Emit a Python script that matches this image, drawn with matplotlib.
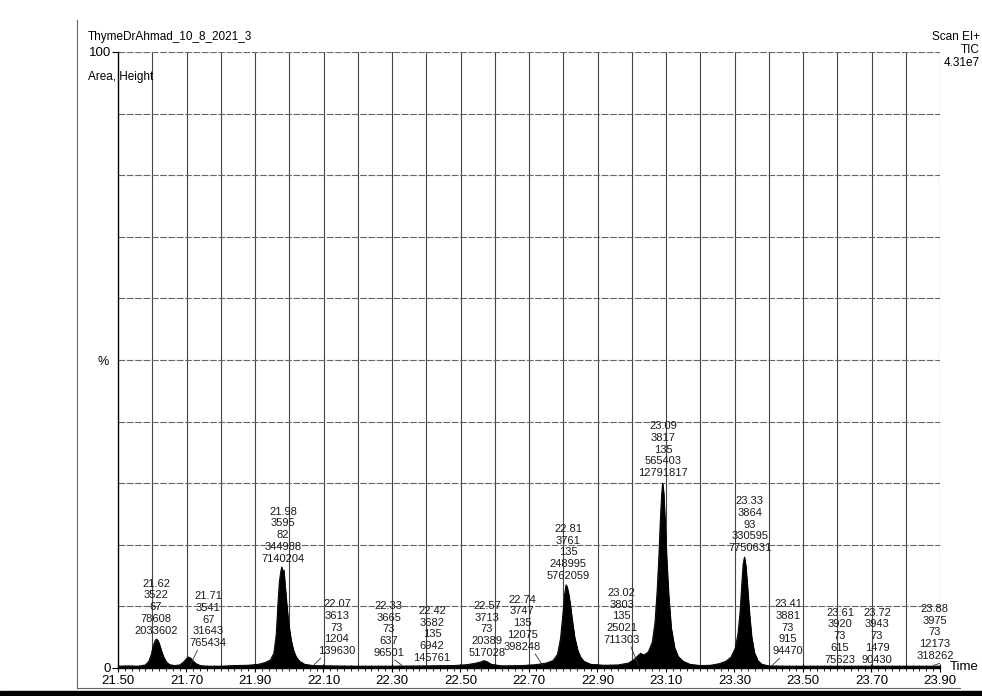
import matplotlib
matplotlib.use("Agg")
import matplotlib.pyplot as plt
import numpy as np

plt.rcParams['font.family'] = ['Liberation Sans', 'DejaVu Sans']

# TIC trace, time (min) vs. relative intensity (%)
trace_t = [21.50, 21.53, 21.56, 21.58, 21.59, 21.597, 21.603, 21.608, 21.612, 21.616, 21.62,
           21.626, 21.633, 21.641, 21.65, 21.665, 21.68, 21.69, 21.698, 21.705, 21.712,
           21.72, 21.728, 21.74, 21.76, 21.80, 21.84, 21.88, 21.91, 21.93, 21.945,
           21.955, 21.962, 21.967, 21.971, 21.975, 21.978, 21.981, 21.984, 21.988,
           21.993, 21.998, 22.005, 22.012, 22.02, 22.03, 22.045, 22.07, 22.12, 22.20,
           22.30, 22.40, 22.48, 22.52, 22.545, 22.56, 22.568, 22.578, 22.59, 22.62,
           22.68, 22.72, 22.75, 22.77, 22.783, 22.792, 22.799, 22.804, 22.808, 22.811,
           22.815, 22.82, 22.826, 22.833, 22.842, 22.85, 22.86, 22.88, 22.92, 22.96,
           22.99, 23.005, 23.018, 23.026, 23.035, 23.048, 23.06, 23.068, 23.074,
           23.079, 23.083, 23.087, 23.090, 23.093, 23.097, 23.102, 23.108, 23.115,
           23.125, 23.135, 23.15, 23.17, 23.20, 23.23, 23.255, 23.275, 23.29, 23.302,
           23.31, 23.316, 23.321, 23.325, 23.329, 23.333, 23.338, 23.344, 23.35,
           23.358, 23.368, 23.38, 23.40, 23.45, 23.55, 23.65, 23.75, 23.85, 23.90]
trace_y = [0.3, 0.35, 0.3, 0.5, 1.1, 2.2, 3.6, 4.4, 4.7, 4.5, 4.0,
           2.9, 1.8, 1.0, 0.55, 0.4, 0.5, 0.9, 1.4, 1.8, 1.6,
           1.1, 0.7, 0.4, 0.3, 0.3, 0.4, 0.45, 0.6, 0.9, 1.3,
           2.4, 5.5, 10.5, 14.0, 15.6, 16.4, 15.2, 15.9, 13.2,
           10.0, 7.2, 4.6, 2.9, 1.8, 1.1, 0.6, 0.4, 0.35, 0.3,
           0.3, 0.35, 0.4, 0.55, 0.8, 1.0, 1.2, 1.0, 0.6, 0.35,
           0.4, 0.55, 0.8, 1.2, 2.2, 4.8, 8.8, 12.0, 13.5, 13.2,
           12.2, 10.5, 7.8, 5.0, 2.9, 1.8, 1.1, 0.6, 0.45, 0.5,
           0.8, 1.3, 2.0, 2.4, 2.1, 2.6, 4.2, 7.5, 12.5,
           18.0, 23.5, 28.0, 30.0, 28.5, 24.0, 17.5, 11.5, 6.5,
           3.3, 1.9, 1.1, 0.6, 0.4, 0.45, 0.7, 1.1, 1.8, 3.2,
           5.5, 9.0, 13.5, 16.8, 18.0, 16.5, 13.0, 8.5, 5.0,
           2.5, 1.2, 0.6, 0.35, 0.3, 0.3, 0.3, 0.3, 0.3, 0.3]

# peak annotations: retention time, scan, base mass, height, area
peak_rt = ['21.62', '21.71', '21.98', '22.07', '22.33', '22.42', '22.57', '22.74',
           '22.81', '23.02', '23.09', '23.33', '23.41', '23.61', '23.72', '23.88']
peak_scan = ['3522', '3541', '3595', '3613', '3665', '3682', '3713', '3747',
             '3761', '3803', '3817', '3864', '3881', '3920', '3943', '3975']
peak_mass = ['67', '67', '82', '73', '73', '135', '73', '135',
             '135', '135', '135', '93', '73', '73', '73', '73']
peak_height = ['78608', '31643', '344988', '1204', '637', '6942', '20389', '12075',
               '248995', '25021', '565403', '330595', '915', '615', '1479', '12173']
peak_area = ['2033602', '765434', '7140204', '139630', '96501', '145761', '517028', '398248',
             '5762059', '711303', '12791817', '7750631', '94470', '75623', '90430', '318262']

# where each label block sits (centre x, top y) and whether it gets a leader line
label_xy = [(21.611, 14.5), (21.763, 12.5), (21.982, 26.2), (22.139, 11.2),
            (22.291, 10.9), (22.417, 10.1), (22.577, 10.9), (22.680, 11.9),
            (22.814, 23.4), (22.971, 13.0), (23.091, 40.1), (23.345, 27.9),
            (23.456, 11.2), (23.608, 9.8), (23.716, 9.8), (23.885, 10.4)]
leader = [False, True, False, True, True, False, False, True,
          False, True, False, False, True, False, False, True]

fig = plt.figure(figsize=(9.82, 6.96), dpi=100)
ax = fig.add_axes([118 / 982, 1 - 668 / 696, 822 / 982, 616 / 696])

ax.set_xlim(21.50, 23.90)
ax.set_ylim(0, 100)

# grid
for gx in np.arange(21.6, 23.95, 0.1):
    ax.axvline(gx, color='#444444', lw=0.8, zorder=0)
for gy in range(10, 101, 10):
    ax.axhline(gy, color='#666666', lw=0.8, ls=(0, (6, 1.5)), zorder=0)

ax.fill_between(trace_t, 0, trace_y, color='black', lw=0.6, zorder=2)
ax.plot(trace_t, trace_y, color='black', lw=0.7, zorder=2)

for i in range(len(peak_rt)):
    lx, ly = label_xy[i]
    txt = '\n'.join([peak_rt[i], peak_scan[i], peak_mass[i], peak_height[i], peak_area[i]])
    ax.text(lx, ly, txt, ha='center', va='top', fontsize=8, linespacing=1.22,
            color='#1a1a1a', zorder=3)
    if leader[i]:
        rt = float(peak_rt[i])
        side = 1 if lx > rt else -1
        bottom = ly - 9.6
        ax.plot([rt + side * 0.022, rt], [bottom, 0.4], color='#333333', lw=0.6, zorder=3)

for s in ['top', 'right']:
    ax.spines[s].set_visible(False)
ax.spines['left'].set_linewidth(1.0)
ax.spines['bottom'].set_linewidth(1.0)

ax.set_xticks(np.arange(21.50, 23.91, 0.2))
ax.set_xticklabels(['%.2f' % v for v in np.arange(21.50, 23.91, 0.2)], fontsize=9.5)
ax.set_xticks(np.arange(21.50, 23.91, 0.02), minor=True)
ax.tick_params(axis='x', which='major', direction='inout', length=6, width=0.8, pad=2)
ax.tick_params(axis='x', which='minor', direction='inout', length=4, width=0.6)
ax.set_yticks([0, 100])
ax.set_yticklabels(['0', '100'], fontsize=9.5)
ax.tick_params(axis='y', direction='out', length=4, width=0.8, pad=1)

fig.text(88 / 982, 1 - 37 / 696, 'ThymeDrAhmad_10_8_2021_3', fontsize=8.5, va='center')
fig.text(88 / 982, 1 - 77 / 696, 'Area, Height', fontsize=8.5, va='center')
fig.text(103 / 982, 1 - 362 / 696, '%', fontsize=9, va='center', ha='center')
fig.text(980 / 982, 1 - 37 / 696, 'Scan EI+', fontsize=8.5, ha='right', va='center')
fig.text(980 / 982, 1 - 50 / 696, 'TIC', fontsize=8.5, ha='right', va='center')
fig.text(980 / 982, 1 - 63 / 696, '4.31e7', fontsize=8.5, ha='right', va='center')
fig.text(950 / 982, 1 - 667 / 696, 'Time', fontsize=9.5, ha='left', va='center')

# page frame lines and scanned edge
fig.add_artist(plt.Line2D([77 / 982, 77 / 982], [1 - 20 / 696, 1 - 688 / 696],
                          color='#666666', lw=0.8))
fig.add_artist(plt.Line2D([77 / 982, 960 / 982], [1 - 688 / 696, 1 - 688 / 696],
                          color='#666666', lw=0.8))
fig.add_artist(plt.Rectangle((0, 0), 1, 5 / 696, color='black', transform=fig.transFigure))

fig.savefig('out.png', dpi=100, facecolor='white')
